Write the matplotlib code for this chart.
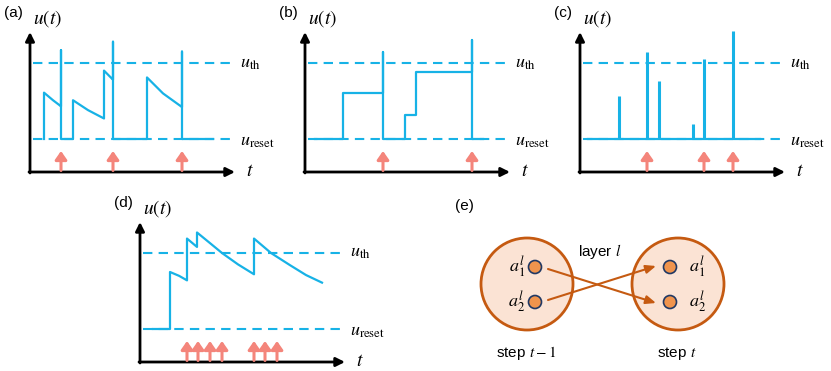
import numpy as np
import matplotlib.pyplot as plt
from matplotlib.patches import Circle

plt.rcParams['font.family'] = ['Liberation Sans', 'DejaVu Sans']
plt.rcParams['mathtext.fontset'] = 'stix'

# ===============================
# Data (t in arbitrary units, u relative: reset = 0, threshold = 1)
# ===============================
U_RESET = 0.0
U_TH = 1.0

a_t = [14, 14, 23, 31, 31, 31, 43, 43, 58, 74, 74, 83, 83, 83, 117, 117, 133, 152, 152, 152, 183]
a_u = [0, 0.61, 0.51, 0.43, 1.17, 0, 0, 0.51, 0.38, 0.27, 0.90, 0.78, 1.28, 0, 0, 0.81, 0.60, 0.42, 1.15, 0, 0]
a_in = [31, 83, 152]

b_t = [10, 38, 38, 78, 78, 78, 100, 100, 111, 111, 167, 167, 167, 178]
b_u = [0, 0, 0.61, 0.61, 1.14, 0, 0, 0.31, 0.31, 0.88, 0.88, 1.30, 0, 0]
b_in = [78, 167]

c_span = [8, 180]
c_spike_t = [39, 67, 79, 113, 124, 153]
c_spike_u = [0.57, 1.15, 0.76, 0.20, 1.05, 1.42]
c_in = [67, 124, 153]

d_t = [13, 30, 30, 39, 47, 47, 57, 57, 70, 82, 98, 114, 114, 131, 150, 166, 182]
d_u = [0, 0, 0.75, 0.70, 0.64, 1.19, 1.08, 1.27, 1.13, 1.0, 0.85, 0.72, 1.19, 1.0, 0.84, 0.71, 0.61]
d_in = [47, 58, 70, 82, 114, 125, 137]

CYAN = "#17b2e6"
SALMON = "#f4857b"
ORANGE = "#c55a11"

W, H = 831, 371
fig = plt.figure(figsize=(W / 100, H / 100), dpi=100)

PX_PER_U = 76.0
U_AXIS = -33 / PX_PER_U          # x-axis sits below the reset level
U_TOP = 107 / PX_PER_U
X_END = 205


def panel_axes(ox, oy):
    # ox, oy: pixel position of the axis origin in the figure (y from top)
    ax = fig.add_axes([(ox - 40) / W, (H - (oy + 10)) / H, 280 / W, 180 / H])
    ax.set_xlim(-40, 240)
    ax.set_ylim(-43 / PX_PER_U, 137 / PX_PER_U)
    ax.axis("off")
    return ax


def draw_frame(ax, letter):
    arrow = dict(arrowstyle="-|>", lw=2, color="black", mutation_scale=13,
                 shrinkA=0, shrinkB=0)
    ax.annotate("", xy=(X_END, U_AXIS), xytext=(-1, U_AXIS), arrowprops=arrow,
                annotation_clip=False)
    ax.annotate("", xy=(0, U_TOP), xytext=(0, U_AXIS - 0.013), arrowprops=arrow,
                annotation_clip=False)
    for u in (U_TH, U_RESET):
        ax.plot([3, 206], [u, u], color=CYAN, lw=1.5, ls=(0, (4.5, 3)))
    ax.text(210, U_TH, r"$u_{\mathrm{th}}$", fontsize=13, va="center", ha="left")
    ax.text(210, U_RESET - 0.03, r"$u_{\mathrm{reset}}$", fontsize=13, va="center", ha="left")
    ax.text(216, U_AXIS, r"$t$", fontsize=14, va="center", ha="left")
    ax.text(3, 1.59, r"$u(t)$", fontsize=14, va="center", ha="left")
    ax.text(-26, 1.66, letter, fontsize=11, va="center", ha="left")


def draw_inputs(ax, ts):
    for t in ts:
        ax.annotate("", xy=(t, U_AXIS + 21 / PX_PER_U), xytext=(t, U_AXIS + 0.02),
                    arrowprops=dict(arrowstyle="-|>,head_width=0.35,head_length=0.5",
                                    lw=2.2, color=SALMON, mutation_scale=10,
                                    shrinkA=0, shrinkB=0))


# (a)
ax = panel_axes(30, 172)
draw_frame(ax, "(a)")
ax.plot(a_t, a_u, color=CYAN, lw=1.6)
draw_inputs(ax, a_in)

# (b)
ax = panel_axes(305, 172)
draw_frame(ax, "(b)")
ax.plot(b_t, b_u, color=CYAN, lw=1.6)
draw_inputs(ax, b_in)

# (c)
ax = panel_axes(580, 172)
draw_frame(ax, "(c)")
ax.plot(c_span, [U_RESET, U_RESET], color=CYAN, lw=1.6)
ax.vlines(c_spike_t, U_RESET, c_spike_u, color=CYAN, lw=2.2)
draw_inputs(ax, c_in)

# (d)
ax = panel_axes(140, 362)
draw_frame(ax, "(d)")
ax.plot(d_t, d_u, color=CYAN, lw=1.6)
draw_inputs(ax, d_in)

# (e) schematic
ax = fig.add_axes([440 / W, 0, 320 / W, 181 / H])
ax.set_xlim(440, 760)
ax.set_ylim(371, 190)
ax.set_aspect("equal")
ax.axis("off")

layer_x = [527, 678]
layer_y = 284
for cx in layer_x:
    ax.add_patch(Circle((cx, layer_y), 46, facecolor="#fbe3d4", edgecolor=ORANGE, lw=2))

node_y = [267, 302]
node_x = [535, 670]
for nx in node_x:
    for ny in node_y:
        ax.add_patch(Circle((nx, ny), 6.5, facecolor="#f0944d", edgecolor="#203864", lw=1.2, zorder=3))

for i, ny in enumerate(node_y):
    ax.text(525, ny, rf"$a_{i + 1}^{{l}}$", fontsize=13, va="center", ha="right")
    ax.text(689, ny, rf"$a_{i + 1}^{{l}}$", fontsize=13, va="center", ha="left")

arrow = dict(arrowstyle="-|>,head_width=0.25,head_length=0.6", lw=1.5, color=ORANGE,
             mutation_scale=10, shrinkA=0, shrinkB=0)
ax.annotate("", xy=(656, node_y[1] + 1), xytext=(548, node_y[0] + 2), arrowprops=arrow)
ax.annotate("", xy=(656, node_y[0] - 1), xytext=(548, node_y[1] - 2), arrowprops=arrow)

ax.text(600, 251, r"layer $l$", fontsize=11, va="center", ha="center")
ax.text(526, 353, r"step $t-1$", fontsize=11, va="center", ha="center")
ax.text(677, 353, r"step $t$", fontsize=11, va="center", ha="center")
ax.text(455, 206, "(e)", fontsize=11, va="center", ha="left")

fig.savefig("out.png", dpi=100)
